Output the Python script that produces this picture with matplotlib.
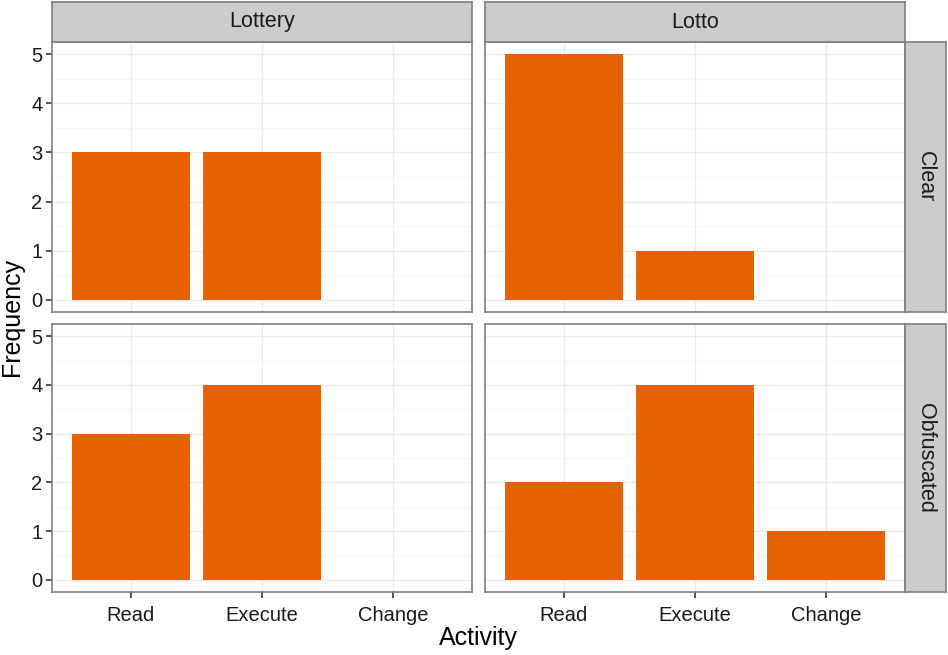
import numpy as np
import matplotlib.pyplot as plt

plt.rcParams['font.family'] = ['Liberation Sans', 'DejaVu Sans']

activities = ['Read', 'Execute', 'Change']
programs = ['Lottery', 'Lotto']
modes = ['Clear', 'Obfuscated']

# frequency[mode][program]
lottery_clear = [3, 3, 0]
lotto_clear = [5, 1, 0]
lottery_obf = [3, 4, 0]
lotto_obf = [2, 4, 1]
freq = {
    ('Clear', 'Lottery'): lottery_clear,
    ('Clear', 'Lotto'): lotto_clear,
    ('Obfuscated', 'Lottery'): lottery_obf,
    ('Obfuscated', 'Lotto'): lotto_obf,
}

W, H = 948, 655
bar_color = '#E66100'
border = '#7F7F7F'
strip_bg = '#CCCCCC'


def px(x0, y0, x1, y1):
    return [x0 / W, 1 - y1 / H, (x1 - x0) / W, (y1 - y0) / H]


fig = plt.figure(figsize=(W / 100, H / 100), dpi=100)

col_x = [(52, 472), (485, 905)]
row_y = [(42, 312), (324, 592)]

for r, mode in enumerate(modes):
    for c, prog in enumerate(programs):
        x0, x1 = col_x[c]
        y0, y1 = row_y[r]
        ax = fig.add_axes(px(x0, y0, x1, y1))
        xs = np.arange(1, len(activities) + 1)
        vals = freq[(mode, prog)]
        ax.bar(xs, vals, width=0.9, color=bar_color, zorder=3)
        ax.set_xlim(0.4, 3.6)
        ax.set_ylim(-0.25, 5.25)
        ax.set_yticks(range(6))
        ax.set_yticks(np.arange(0.5, 5, 1), minor=True)
        ax.set_xticks(xs)
        ax.grid(True, which='major', color='#EBEBEB', linewidth=1.0, zorder=0)
        ax.grid(True, which='minor', axis='y', color='#F5F5F5', linewidth=0.6, zorder=0)
        ax.set_axisbelow(True)
        for s in ax.spines.values():
            s.set_color(border)
            s.set_linewidth(1.2)
        ax.tick_params(which='minor', length=0)
        ax.tick_params(which='major', length=4, width=1.2, color='#333333',
                       labelsize=14.5, labelcolor='#1a1a1a', pad=3)
        ax.tick_params(axis='x', pad=6)
        if c == 0:
            ax.set_yticklabels([str(v) for v in range(6)])
        else:
            ax.tick_params(axis='y', length=0, labelleft=False)
        if r == 1:
            ax.set_xticklabels(activities)
        else:
            ax.tick_params(axis='x', length=0, labelbottom=False)

        # top strips
        if r == 0:
            sax = fig.add_axes(px(x0, 2, x1, y0))
            sax.set_facecolor(strip_bg)
            sax.set_xticks([])
            sax.set_yticks([])
            for s in sax.spines.values():
                s.set_color(border)
                s.set_linewidth(1.2)
            sax.text(0.5, 0.5, prog, ha='center', va='center', fontsize=15.5,
                     color='#1a1a1a', transform=sax.transAxes)
        # right strips
        if c == 1:
            sax = fig.add_axes(px(x1, y0, 946, y1))
            sax.set_facecolor(strip_bg)
            sax.set_xticks([])
            sax.set_yticks([])
            for s in sax.spines.values():
                s.set_color(border)
                s.set_linewidth(1.2)
            sax.text(0.5, 0.5, mode, ha='center', va='center', fontsize=15.5,
                     rotation=-90, color='#1a1a1a', transform=sax.transAxes)

fig.text(478 / W, 1 - 638 / H, 'Activity', ha='center', va='center', fontsize=18)
fig.text(12 / W, 1 - 317 / H, 'Frequency', ha='center', va='center', fontsize=18,
         rotation=90)

fig.savefig('out.png', dpi=100)
